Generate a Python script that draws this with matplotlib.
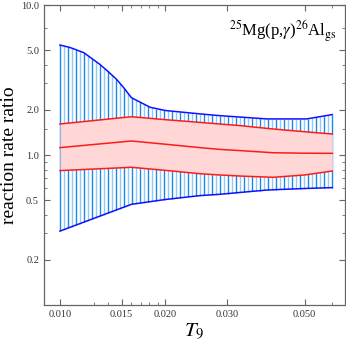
import numpy as np
import matplotlib
matplotlib.use("Agg")
import matplotlib.pyplot as plt
from matplotlib.ticker import FixedLocator, FixedFormatter, NullFormatter

plt.rcParams['font.family'] = ['Liberation Serif', 'DejaVu Serif']
plt.rcParams['mathtext.fontset'] = 'stix'

# Data (temperature T9, rate ratio)
t_blue_hi = [0.010, 0.01068, 0.0117, 0.0130, 0.01371, 0.0145, 0.01523, 0.0160, 0.0181, 0.0200, 0.0251, 0.0286, 0.0390, 0.0507, 0.0600]
blue_hi   = [5.41, 5.21, 4.81, 4.02, 3.61, 3.20, 2.80, 2.41, 2.08, 1.98, 1.88, 1.83, 1.74, 1.74, 1.86]
t_blue_lo = [0.010, 0.0160, 0.0200, 0.0251, 0.0286, 0.0390, 0.0500, 0.0600]
blue_lo   = [0.311, 0.469, 0.505, 0.536, 0.547, 0.584, 0.598, 0.606]
t_red     = [0.010, 0.0160, 0.0200, 0.0251, 0.0286, 0.0327, 0.0407, 0.0500, 0.0600]
red_hi    = [1.61, 1.80, 1.72, 1.65, 1.61, 1.57, 1.49, 1.43, 1.38]
red_mid   = [1.12, 1.24, 1.18, 1.12, 1.09, 1.07, 1.035, 1.028, 1.026]
red_lo    = [0.787, 0.828, 0.790, 0.750, 0.736, 0.724, 0.710, 0.736, 0.782]

xticks = [0.010, 0.015, 0.020, 0.030, 0.050]
xticklabels = ["0.010", "0.015", "0.020", "0.030", "0.050"]
yticks = [0.2, 0.5, 1.0, 2.0, 5.0, 10.0]
yticklabels = ["0.2", "0.5", "1.0", "2.0", "5.0", "10.0"]

fig = plt.figure(figsize=(3.46, 3.43), dpi=100)
ax = fig.add_axes([0.127, 0.1108, 0.8687, 0.8746])
ax.set_xscale('log')
ax.set_yscale('log')
ax.set_xlim(0.0090, 0.0650)
ax.set_ylim(0.1, 10.0)

# vertical hatching between blue bounds
xs = np.logspace(np.log10(0.010), np.log10(0.060), 69)
lx = np.log10(xs)
hi = 10 ** np.interp(lx, np.log10(t_blue_hi), np.log10(blue_hi))
lo = 10 ** np.interp(lx, np.log10(t_blue_lo), np.log10(blue_lo))
cols = ['#1a88e6' if i % 2 == 0 else '#94c9f6' for i in range(len(xs))]
ax.vlines(xs, lo, hi, colors=cols, linewidth=1.0, zorder=1)

ax.plot(t_blue_hi, blue_hi, color='#1010ff', lw=1.1, zorder=3)
ax.plot(t_blue_lo, blue_lo, color='#1010ff', lw=1.1, zorder=3)

ax.fill_between(t_red, red_lo, red_hi, color='#ffd7d7', lw=0, zorder=2)
for arr in (red_hi, red_mid, red_lo):
    ax.plot(t_red, arr, color='#ff1a1a', lw=1.1, zorder=3)

ax.xaxis.set_major_locator(FixedLocator(xticks))
ax.xaxis.set_major_formatter(FixedFormatter(xticklabels))
ax.xaxis.set_minor_locator(FixedLocator([0.0125, 0.0137, 0.016, 0.017, 0.018, 0.019, 0.060]))
ax.xaxis.set_minor_formatter(NullFormatter())
ax.yaxis.set_major_locator(FixedLocator(yticks))
ax.yaxis.set_major_formatter(FixedFormatter(yticklabels))
ax.yaxis.set_minor_locator(FixedLocator([0.3, 0.4, 0.6, 0.7, 0.8, 0.9, 1.5, 3.0, 4.0, 7.0]))
ax.yaxis.set_minor_formatter(NullFormatter())

ax.tick_params(which='both', direction='in', top=True, right=True, colors='#666666',
               labelcolor='#333333', labelsize=7.5)
ax.tick_params(which='major', length=4, width=0.8)
ax.tick_params(which='minor', length=2, width=0.6)
for s in ax.spines.values():
    s.set_color('#666666')
    s.set_linewidth(0.9)

ax.set_ylabel('reaction rate ratio', fontsize=14, labelpad=2)
ax.set_xlabel(r'$T_9$', fontsize=15, labelpad=2)

ax.text(0.975, 0.955, r'$^{25}$Mg(p,$\gamma$)$^{26}$Al$_{\rm gs}$', transform=ax.transAxes,
        ha='right', va='top', fontsize=12)

fig.savefig('out.png', dpi=100)
